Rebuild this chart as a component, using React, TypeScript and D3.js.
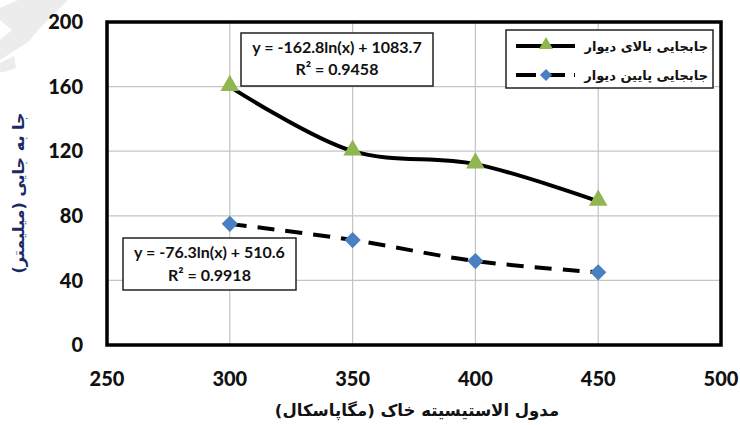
import React from "react";
import * as d3 from "d3";

const xValues = [300, 350, 400, 450];
const upperWall = [160, 120, 112, 89];
const lowerWall = [75, 65, 52, 45];
const xTicks = [250, 300, 350, 400, 450, 500];
const yTicks = [0, 40, 80, 120, 160, 200];
const seriesNames = ["جابجایی بالای دیوار", "جابجایی پایین دیوار"];
const upperEq = ["y = -162.8ln(x) + 1083.7", "R² = 0.9458"];
const lowerEq = ["y = -76.3ln(x) + 510.6", "R² = 0.9918"];
const xTitle = "مدول الاستیسیته خاک (مگاپاسکال)";
const yTitle = "جا به جایی (میلیمتر)";

const W = 740;
const H = 425;
const plot = { left: 107, right: 721, top: 22, bottom: 345 };

const GREEN = "#8fb64f";
const BLUE = "#4a7fc1";
const FONT = "Lato, 'DejaVu Sans', sans-serif";
const AFONT = "'DejaVu Sans', sans-serif";

export default function App() {
  const x = d3.scaleLinear().domain([250, 500]).range([plot.left, plot.right]);
  const y = d3.scaleLinear().domain([0, 200]).range([plot.bottom, plot.top]);

  const line = d3
    .line<number>()
    .x((_, i) => x(xValues[i]))
    .y((d) => y(d))
    .curve(d3.curveCatmullRom.alpha(0.5));

  const tri = d3.symbol().type(d3.symbolTriangle).size(150)();
  const sq = d3.symbol().type(d3.symbolSquare).size(132)();

  return (
    <svg
      width={W}
      height={H}
      style={{ position: "absolute", left: 0, top: 0, background: "#fff" }}
    >
      <polygon
        points="18,0 68,0 40,28 28,42 0,60 0,40 12,30 0,20 0,8"
        fill="#ececec"
      />
      <polygon points="0,63 14,56 16,68 4,72 0,72" fill="#ececec" />
      {/* gridlines */}
      {xTicks.map((t) => (
        <line
          key={"gx" + t}
          x1={x(t)}
          x2={x(t)}
          y1={plot.top}
          y2={plot.bottom}
          stroke="#c4c4c4"
          strokeWidth={1.2}
        />
      ))}
      {yTicks.map((t) => (
        <line
          key={"gy" + t}
          x1={plot.left}
          x2={plot.right}
          y1={y(t)}
          y2={y(t)}
          stroke="#c4c4c4"
          strokeWidth={1.2}
        />
      ))}
      {/* frame */}
      <rect
        x={plot.left}
        y={plot.top}
        width={plot.right - plot.left}
        height={plot.bottom - plot.top}
        fill="none"
        stroke="#000"
        strokeWidth={3.5}
      />
      {/* tick labels */}
      {yTicks.map((t) => (
        <text
          key={"ty" + t}
          x={83}
          y={y(t)}
          dy="0.36em"
          textAnchor="end"
          fontFamily={FONT}
          fontWeight="900"
          fontSize={20}
          fill="#111"
        >
          {t}
        </text>
      ))}
      {xTicks.map((t) => (
        <text
          key={"tx" + t}
          x={x(t)}
          y={386}
          textAnchor="middle"
          fontFamily={FONT}
          fontWeight="900"
          fontSize={20}
          fill="#111"
        >
          {t}
        </text>
      ))}
      {/* lines */}
      <path
        d={line(upperWall) || ""}
        fill="none"
        stroke="#000"
        strokeWidth={4}
      />
      <path
        d={line(lowerWall) || ""}
        fill="none"
        stroke="#000"
        strokeWidth={4}
        strokeDasharray="17 11"
      />
      {upperWall.map((v, i) => (
        <path
          key={"m1" + i}
          d={tri || ""}
          transform={`translate(${x(xValues[i])},${y(v) - 1})`}
          fill={GREEN}
        />
      ))}
      {lowerWall.map((v, i) => (
        <path
          key={"m2" + i}
          d={sq || ""}
          transform={`translate(${x(xValues[i])},${y(v)}) rotate(45)`}
          fill={BLUE}
        />
      ))}
      {/* equation boxes */}
      <rect x={241} y={33} width={192} height={53} fill="#fff" stroke="#222" strokeWidth={1.5} />
      <text x={337} y={53} textAnchor="middle" fontFamily={FONT} fontWeight="bold" fontSize={16} fill="#111">
        {upperEq[0]}
      </text>
      <text x={337} y={75} textAnchor="middle" fontFamily={FONT} fontWeight="bold" fontSize={16} fill="#111">
        {upperEq[1]}
      </text>
      <rect x={123} y={238} width={173} height={52} fill="#fff" stroke="#222" strokeWidth={1.5} />
      <text x={209.5} y={258} textAnchor="middle" fontFamily={FONT} fontWeight="bold" fontSize={16} fill="#111">
        {lowerEq[0]}
      </text>
      <text x={209.5} y={281} textAnchor="middle" fontFamily={FONT} fontWeight="bold" fontSize={16} fill="#111">
        {lowerEq[1]}
      </text>
      {/* legend */}
      <rect x={506} y={30} width={207} height={58} fill="#fff" stroke="#222" strokeWidth={1.5} />
      <line x1={516} x2={575} y1={46} y2={46} stroke="#000" strokeWidth={4} />
      <path d={tri || ""} transform="translate(546,45) scale(0.75)" fill={GREEN} />
      <line x1={516} x2={575} y1={75} y2={75} stroke="#000" strokeWidth={4} strokeDasharray="20 9" />
      <path d={sq || ""} transform="translate(546,75) rotate(45) scale(0.75)" fill={BLUE} />
      <text x={708} y={51} textAnchor="end" fontFamily={AFONT} fontWeight="bold" fontSize={13} fill="#111">
        {seriesNames[0]}
      </text>
      <text x={708} y={80} textAnchor="end" fontFamily={AFONT} fontWeight="bold" fontSize={13} fill="#111">
        {seriesNames[1]}
      </text>
      {/* axis titles */}
      <text x={417} y={416} textAnchor="middle" fontFamily={AFONT} fontWeight="bold" fontSize={16.5} fill="#111">
        {xTitle}
      </text>
      <text
        transform="translate(24,193) rotate(-90)"
        textAnchor="middle"
        fontFamily={AFONT}
        fontWeight="bold"
        fontSize={16}
        fill="#1b2a66"
      >
        {yTitle}
      </text>
    </svg>
  );
}
